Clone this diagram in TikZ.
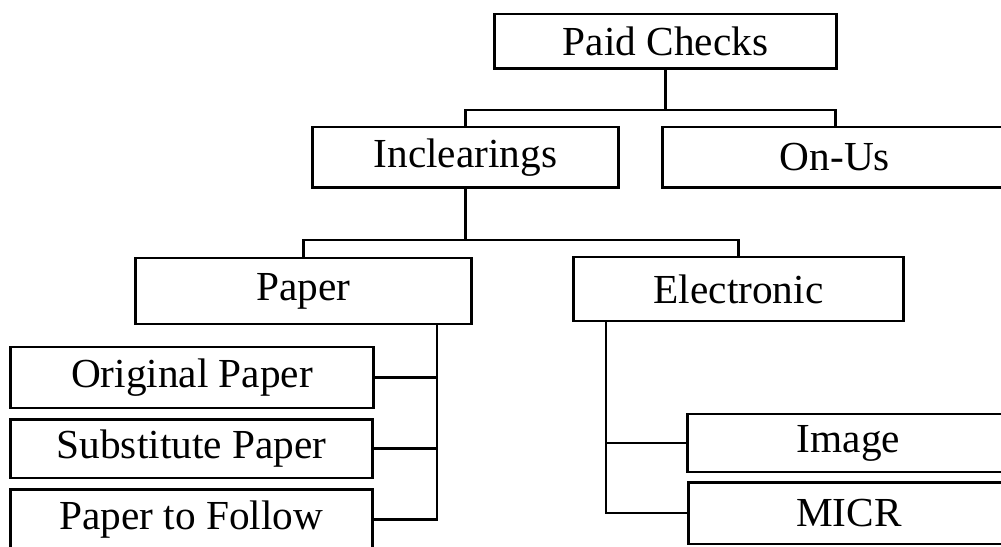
\documentclass[tikz,border=0pt]{standalone}
\usepackage{fontspec}
\setmainfont{Liberation Serif}
\usepackage{tikz}
\usetikzlibrary{calc,positioning}

\begin{document}
\begin{tikzpicture}[x=0.02cm,y=-0.02cm,line width=1.7pt,
  font=\fontsize{23.5}{28}\selectfont]
\tikzstyle{box}=[draw=black,text=black,rectangle,inner sep=0pt,line width=1.7pt]
\useasboundingbox (0,0) rectangle (1001,547);
\clip (0,0) rectangle (1001,547);
% boxes
\node[box,minimum width=6.86cm,minimum height=1.10cm] (paid) at (665.5,41.5) {Paid Checks};
\node[box,minimum width=6.14cm,minimum height=1.22cm] (incl) at (465.5,157.5) {Inclearings};
\node[box,minimum width=6.92cm,minimum height=1.22cm] (onus) at (835,157.5) {On-Us};
\node[box,minimum width=6.74cm,minimum height=1.32cm] (paper) at (303.5,291) {Paper};
\node[box,minimum width=6.62cm,minimum height=1.28cm] (elec) at (738.5,289) {Electronic};
\node[box,minimum width=7.28cm,minimum height=1.22cm] (orig) at (192,377.5) {Original Paper};
\node[box,minimum width=7.26cm,minimum height=1.18cm] (subst) at (191.5,448.5) {Substitute Paper};
\node[box,minimum width=7.26cm,minimum height=1.22cm] (follow) at (191.5,519.5) {Paper to Follow};
\node[box,minimum width=6.46cm,minimum height=1.16cm] (image) at (848.5,443) {Image};
\node[box,minimum width=6.44cm,minimum height=1.24cm] (micr) at (849,513) {MICR};
% junctions
\coordinate (b1) at (665.5,110);
\coordinate (b2) at (465.5,240);
\coordinate (pb) at (437,0);
\coordinate (eb) at (606,0);
% connectors
\draw (paid.south) -- (b1);
\draw (incl.north) |- (b1) -| (onus.north);
\draw (incl.south) -- (b2);
\draw (paper.north) |- (b2) -| (elec.north);
\draw (paper.south -| pb) |- (follow.east);
\draw (orig.east) -- (orig.east -| pb);
\draw (subst.east) -- (subst.east -| pb);
\draw (elec.south -| eb) |- (micr.west);
\draw (image.west) -- (image.west -| eb);
\end{tikzpicture}
\end{document}
